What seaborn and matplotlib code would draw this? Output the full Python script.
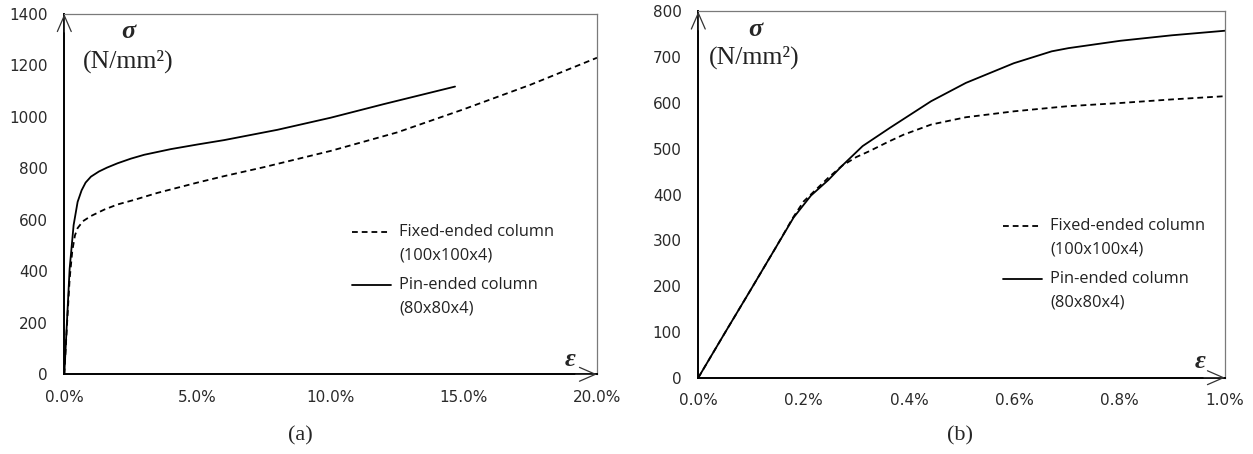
import numpy as np
import pandas as pd
import matplotlib
matplotlib.use("Agg")
import matplotlib.pyplot as plt
import seaborn as sns
from matplotlib.lines import Line2D
from matplotlib.legend_handler import HandlerLine2D
from matplotlib.ticker import FuncFormatter

# ---- (a) full stress-strain curves (strain in %, stress in N/mm2) ----
fixed_a_strain = [0.0, 0.1, 0.2, 0.3, 0.4, 0.5, 0.7, 1.0, 1.5, 2.0, 2.6, 3.5,
                  5.0, 6.0, 7.5, 10.0, 12.5, 15.0, 17.5, 20.0]
fixed_a_stress = [0, 190, 370, 480, 540, 568, 595, 615, 640, 660, 677, 705,
                  745, 770, 805, 868, 940, 1030, 1125, 1230]

pin_a_strain = [0.0, 0.1, 0.2, 0.35, 0.5, 0.65, 0.8, 1.0, 1.3, 1.6, 2.0, 2.5,
                3.0, 4.0, 5.0, 6.0, 8.0, 10.0, 12.0, 14.67]
pin_a_stress = [0, 205, 410, 580, 670, 715, 745, 768, 788, 803, 820, 838,
                853, 875, 893, 910, 950, 997, 1050, 1118]

# ---- (b) initial part of the curves ----
fixed_b_strain = [0.0, 0.05, 0.1, 0.15, 0.18, 0.2, 0.247, 0.273, 0.30, 0.325,
                  0.36, 0.39, 0.442, 0.508, 0.6, 0.7, 0.8, 0.9, 1.0]
fixed_b_stress = [0, 97, 193, 290, 350, 385, 437, 463, 482, 495,
                  515, 531, 553, 569, 582, 593, 600, 608, 615]

pin_b_strain = [0.0, 0.05, 0.1, 0.15, 0.181, 0.214, 0.247, 0.273, 0.312, 0.364,
                0.442, 0.508, 0.599, 0.671, 0.703, 0.801, 0.899, 1.0]
pin_b_stress = [0, 97, 193, 290, 350, 398, 432, 463, 506, 546,
                604, 644, 687, 713, 720, 736, 748, 758]

fixed_label = "Fixed-ended column\n(100x100x4)"
pin_label = "Pin-ended column\n(80x80x4)"

a_xticks = [0, 5, 10, 15, 20]
a_yticks = [0, 200, 400, 600, 800, 1000, 1200, 1400]
b_xticks = [0.0, 0.2, 0.4, 0.6, 0.8, 1.0]
b_yticks = [0, 100, 200, 300, 400, 500, 600, 700, 800]

sns.set_style("white")
plt.rcParams["font.family"] = ["DejaVu Sans"]

SERIF = "Liberation Serif"
LEGEND_FONT = "Open Sans"
DASH = (3.2, 2.2)


class FirstLineHandler(HandlerLine2D):
    """Line handle aligned with the first line of a two-line label."""

    def __init__(self, lift, **kw):
        super().__init__(**kw)
        self.lift = lift

    def create_artists(self, legend, orig_handle, xdescent, ydescent,
                       width, height, fontsize, trans):
        arts = super().create_artists(legend, orig_handle, xdescent, ydescent,
                                      width, height, fontsize, trans)
        for a in arts:
            a.set_ydata(np.asarray(a.get_ydata(), dtype=float) + self.lift)
        return arts


def make_df(strain, stress, name):
    return pd.DataFrame({"strain": strain, "stress": stress, "series": name})


def style_axes(ax, xmax, ymax, xticks, yticks, xfmt):
    ax.set_xlim(0, xmax)
    ax.set_ylim(0, ymax)
    ax.set_xticks(xticks)
    ax.set_yticks(yticks)
    ax.xaxis.set_major_formatter(FuncFormatter(xfmt))
    ax.set_xlabel("")
    ax.set_ylabel("")
    for side in ("left", "bottom"):
        ax.spines[side].set_color("black")
        ax.spines[side].set_linewidth(1.4)
    for side in ("top", "right"):
        ax.spines[side].set_color("#7a7a7a")
        ax.spines[side].set_linewidth(0.9)
    ax.tick_params(axis="both", direction="in", length=5, width=0.8,
                   color="#8a8a8a", labelsize=11, labelcolor="#2a2a2a")
    ax.tick_params(axis="y", pad=12)
    ax.tick_params(axis="x", pad=11)
    # open arrow heads at the ends of both axes
    arrow = dict(arrowstyle="->,head_length=1.15,head_width=0.5",
                 color="#333333", lw=0.9, shrinkA=0, shrinkB=0)
    ax.annotate("", xy=(1, 0), xytext=(0.96, 0), xycoords="axes fraction",
                arrowprops=arrow, annotation_clip=False)
    ax.annotate("", xy=(0, 1), xytext=(0, 0.95), xycoords="axes fraction",
                arrowprops=arrow, annotation_clip=False)


def annotate_axes(ax, sig_xy, unit_xy, eps_xy):
    ax.text(*sig_xy, "σ", transform=ax.transAxes, ha="center", va="center",
            family=SERIF, fontsize=19, fontweight="bold", style="italic")
    ax.text(*unit_xy, "(N/mm²)", transform=ax.transAxes, ha="center",
            va="center", family=SERIF, fontsize=18.5, color="#222222")
    ax.text(*eps_xy, "ε", transform=ax.transAxes, ha="center", va="center",
            family=SERIF, fontsize=19, fontweight="bold", style="italic")


def draw(ax, df):
    sns.lineplot(data=df, x="strain", y="stress", style="series",
                 style_order=[fixed_label, pin_label],
                 dashes={fixed_label: DASH, pin_label: ""},
                 color="black", linewidth=1.3, sort=False, estimator=None,
                 ax=ax)


def add_legend(ax, anchor):
    handles = [Line2D([], [], color="black", lw=1.3, dashes=DASH),
               Line2D([], [], color="black", lw=1.3)]
    leg = ax.legend(handles, [fixed_label, pin_label], loc="upper left",
                    bbox_to_anchor=anchor, frameon=False, borderpad=0,
                    borderaxespad=0, handlelength=2.4, handletextpad=0.5,
                    labelspacing=0.85,
                    prop={"family": LEGEND_FONT, "size": 11.8},
                    handler_map={Line2D: FirstLineHandler(lift=8.64)})
    for t in leg.get_texts():
        t.set_color("#222222")
        t.set_linespacing(1.62)


fig = plt.figure(figsize=(12.53, 4.54), dpi=100)
ax_a = fig.add_axes([0.05132, 0.17555, 0.42514, 0.79361])
ax_b = fig.add_axes([0.55730, 0.16806, 0.42035, 0.80661])

df_a = pd.concat([make_df(fixed_a_strain, fixed_a_stress, fixed_label),
                  make_df(pin_a_strain, pin_a_stress, pin_label)],
                 ignore_index=True)
df_b = pd.concat([make_df(fixed_b_strain, fixed_b_stress, fixed_label),
                  make_df(pin_b_strain, pin_b_stress, pin_label)],
                 ignore_index=True)

draw(ax_a, df_a)
draw(ax_b, df_b)

style_axes(ax_a, 20, 1400, a_xticks, a_yticks, lambda v, p: f"{v:.1f}%")
style_axes(ax_b, 1.0, 800, b_xticks, b_yticks, lambda v, p: f"{v:.1f}%")

annotate_axes(ax_a, (0.1196, 0.9528), (0.1196, 0.8695), (0.9493, 0.0397))
annotate_axes(ax_b, (0.1077, 0.9522), (0.1058, 0.8758), (0.9525, 0.0456))

add_legend(ax_a, (0.5399, 0.418))
add_legend(ax_b, (0.578, 0.436))

fig.text(300 / 1253, 1 - 436 / 454, "(a)", ha="center", va="center",
         family=SERIF, fontsize=16)
fig.text(960 / 1253, 1 - 436 / 454, "(b)", ha="center", va="center",
         family=SERIF, fontsize=16)

fig.savefig("out.png", dpi=100)
